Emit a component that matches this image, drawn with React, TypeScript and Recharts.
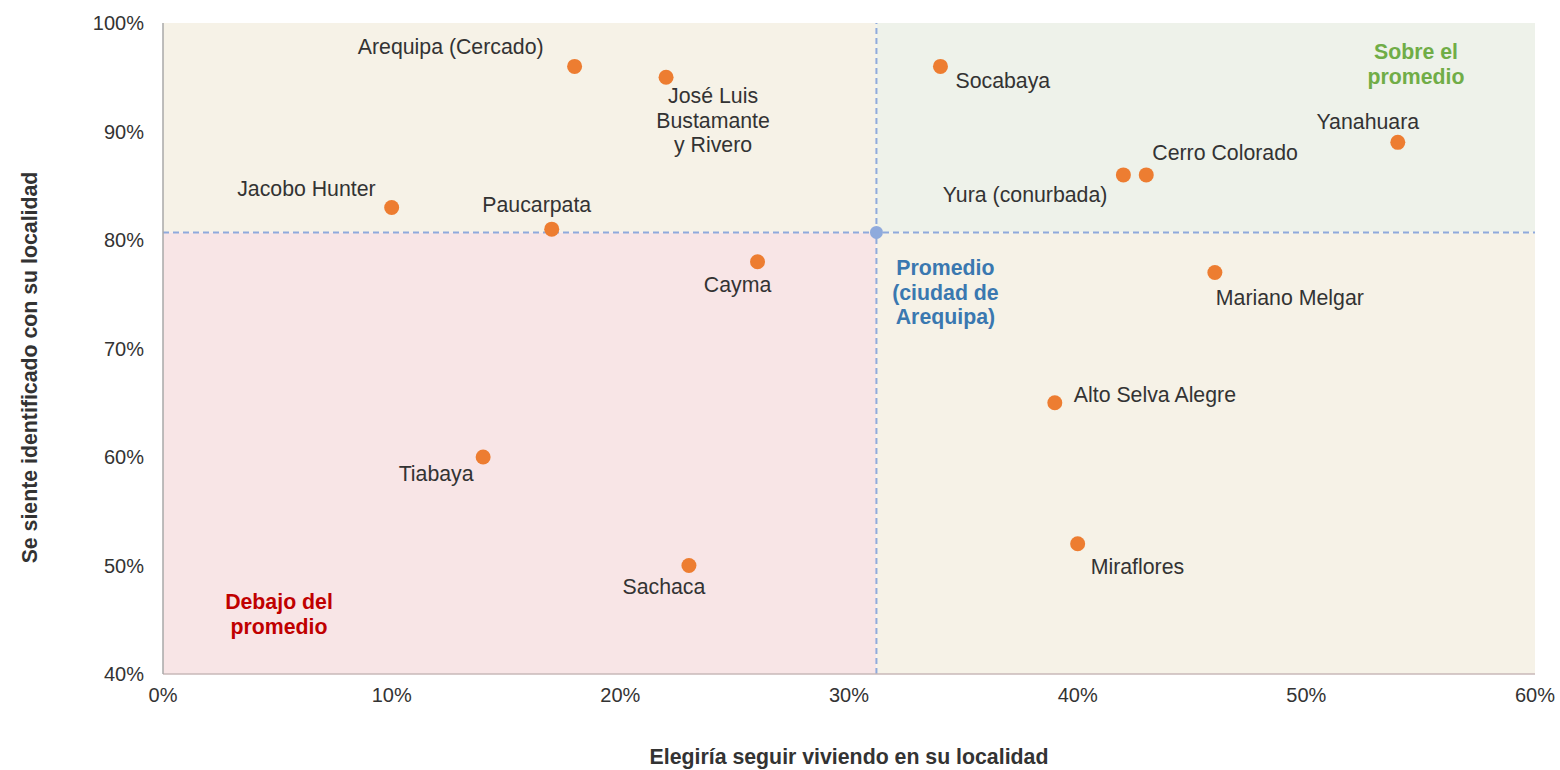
import React from 'react';
import { ScatterChart, Scatter, XAxis, YAxis, ReferenceArea, ReferenceLine } from 'recharts';

// ---- data ----
const districts = [
  'Arequipa (Cercado)',
  'José Luis Bustamante y Rivero',
  'Jacobo Hunter',
  'Paucarpata',
  'Cayma',
  'Tiabaya',
  'Sachaca',
  'Socabaya',
  'Yura (conurbada)',
  'Cerro Colorado',
  'Yanahuara',
  'Mariano Melgar',
  'Alto Selva Alegre',
  'Miraflores',
];
const wouldStay = [18, 22, 10, 17, 26, 14, 23, 34, 42, 43, 54, 46, 39, 40];
const feelsIdentified = [96, 95, 83, 81, 78, 60, 50, 96, 86, 86, 89, 77, 65, 52];
const averageWouldStay = 31.2;
const averageIdentified = 80.7;
const xTicks = [0, 10, 20, 30, 40, 50, 60];
const yTicks = [40, 50, 60, 70, 80, 90, 100];

const xTitle = 'Elegiría seguir viviendo en su localidad';
const yTitle = 'Se siente identificado con su localidad';
const aboveText = ['Sobre el', 'promedio'];
const belowText = ['Debajo del', 'promedio'];
const averageText = ['Promedio', '(ciudad de', 'Arequipa)'];

// ---- layout for point labels (not data) ----
type Place = { lines: string[]; anchor: 'start' | 'middle' | 'end'; dx: number; dy: number };
const labelPlacement: Record<string, Place> = {
  'Arequipa (Cercado)': { lines: ['Arequipa (Cercado)'], anchor: 'end', dx: -31, dy: -19 },
  'José Luis Bustamante y Rivero': { lines: ['José Luis', 'Bustamante', 'y Rivero'], anchor: 'middle', dx: 47, dy: 19 },
  'Jacobo Hunter': { lines: ['Jacobo Hunter'], anchor: 'end', dx: -16, dy: -18 },
  Paucarpata: { lines: ['Paucarpata'], anchor: 'middle', dx: -15, dy: -24 },
  Cayma: { lines: ['Cayma'], anchor: 'middle', dx: -20, dy: 23 },
  Tiabaya: { lines: ['Tiabaya'], anchor: 'middle', dx: -47, dy: 17 },
  Sachaca: { lines: ['Sachaca'], anchor: 'middle', dx: -25, dy: 21 },
  Socabaya: { lines: ['Socabaya'], anchor: 'start', dx: 15, dy: 15 },
  'Yura (conurbada)': { lines: ['Yura (conurbada)'], anchor: 'end', dx: -16, dy: 20 },
  'Cerro Colorado': { lines: ['Cerro Colorado'], anchor: 'start', dx: 6, dy: -22 },
  Yanahuara: { lines: ['Yanahuara'], anchor: 'middle', dx: -30, dy: -20 },
  'Mariano Melgar': { lines: ['Mariano Melgar'], anchor: 'start', dx: 1, dy: 25 },
  'Alto Selva Alegre': { lines: ['Alto Selva Alegre'], anchor: 'start', dx: 19, dy: -8 },
  Miraflores: { lines: ['Miraflores'], anchor: 'start', dx: 13, dy: 23 },
};

const FONT = '"Liberation Sans", Arial, sans-serif';
const TEXT_COLOR = '#333333';
const LABEL_SIZE = 21.3;
const LINE_H = 24.5;

const points = districts.map((name, i) => ({ name, x: wouldStay[i], y: feelsIdentified[i] }));
const averagePoint = [{ name: 'Promedio', x: averageWouldStay, y: averageIdentified }];

const DistrictDot = (props: any) => {
  const { cx, cy, payload } = props;
  const place = labelPlacement[payload.name];
  return (
    <g>
      <circle cx={cx} cy={cy} r={7.5} fill="#ED7D31" />
      {place && (
        <text
          x={cx + place.dx}
          y={cy + place.dy}
          textAnchor={place.anchor}
          fontFamily={FONT}
          fontSize={LABEL_SIZE}
          fill={TEXT_COLOR}
        >
          {place.lines.map((ln, k) => (
            <tspan key={k} x={cx + place.dx} y={cy + place.dy + k * LINE_H} dominantBaseline="central">
              {ln}
            </tspan>
          ))}
        </text>
      )}
    </g>
  );
};

const AverageDot = (props: any) => {
  const { cx, cy } = props;
  return <circle cx={cx} cy={cy} r={6.5} fill="#8FAADC" />;
};

const multiLine = (lines: string[], x: number, y: number, color: string) => (
  <text x={x} y={y} textAnchor="middle" fontFamily={FONT} fontSize={LABEL_SIZE} fontWeight="bold" fill={color}>
    {lines.map((ln, k) => (
      <tspan key={k} x={x} y={y + k * LINE_H} dominantBaseline="central">
        {ln}
      </tspan>
    ))}
  </text>
);

export default function App() {
  return (
    <div style={{ position: 'absolute', left: 0, top: 0, width: 1560, height: 770, background: '#ffffff' }}>
      <ScatterChart width={1560} height={770} margin={{ top: 23, right: 25, bottom: 0, left: 0 }}>
        <XAxis
          type="number"
          dataKey="x"
          domain={[0, 60]}
          ticks={xTicks}
          tickFormatter={(v: number) => `${v}%`}
          height={96}
          tickLine={false}
          tickSize={0}
          tickMargin={14}
          axisLine={{ stroke: '#C9B9B9', strokeWidth: 1.5 }}
          tick={{ fill: TEXT_COLOR, fontSize: 20, fontFamily: FONT }}
          label={{
            content: (p: any) => {
              const vb = p.viewBox;
              return (
                <text
                  x={vb.x + vb.width / 2}
                  y={vb.y + 83}
                  textAnchor="middle"
                  dominantBaseline="central"
                  fontFamily={FONT}
                  fontSize={LABEL_SIZE}
                  fontWeight="bold"
                  fill={TEXT_COLOR}
                >
                  {xTitle}
                </text>
              );
            },
          }}
        />
        <YAxis
          type="number"
          dataKey="y"
          domain={[40, 100]}
          ticks={yTicks}
          tickFormatter={(v: number) => `${v}%`}
          width={163}
          tickLine={false}
          tickSize={0}
          tickMargin={19}
          axisLine={{ stroke: '#A8A8A8', strokeWidth: 1.5 }}
          tick={{ fill: TEXT_COLOR, fontSize: 20, fontFamily: FONT }}
          label={{
            content: (p: any) => {
              const vb = p.viewBox;
              const x = vb.x + 30;
              const y = vb.y + vb.height / 2 + 19;
              return (
                <text
                  x={x}
                  y={y}
                  transform={`rotate(-90 ${x} ${y})`}
                  textAnchor="middle"
                  dominantBaseline="central"
                  fontFamily={FONT}
                  fontSize={LABEL_SIZE}
                  fontWeight="bold"
                  fill={TEXT_COLOR}
                >
                  {yTitle}
                </text>
              );
            },
          }}
        />
        <ReferenceArea
          x1={0}
          x2={averageWouldStay}
          y1={averageIdentified}
          y2={100}
          fill="#F6F2E7"
          fillOpacity={1}
          stroke="none"
        />
        <ReferenceArea
          x1={averageWouldStay}
          x2={60}
          y1={averageIdentified}
          y2={100}
          fill="#EEF2EA"
          fillOpacity={1}
          stroke="none"
          label={{
            content: (p: any) => {
              const vb = p.viewBox;
              return multiLine(aboveText, vb.x + vb.width - 119, vb.y + 29, '#70AD47');
            },
          }}
        />
        <ReferenceArea
          x1={0}
          x2={averageWouldStay}
          y1={40}
          y2={averageIdentified}
          fill="#F8E5E6"
          fillOpacity={1}
          stroke="none"
          label={{
            content: (p: any) => {
              const vb = p.viewBox;
              return multiLine(belowText, vb.x + 116, vb.y + vb.height - 72, '#C00000');
            },
          }}
        />
        <ReferenceArea
          x1={averageWouldStay}
          x2={60}
          y1={40}
          y2={averageIdentified}
          fill="#F6F2E7"
          fillOpacity={1}
          stroke="none"
          label={{
            content: (p: any) => {
              const vb = p.viewBox;
              return multiLine(averageText, vb.x + 69, vb.y + 36, '#3A78B0');
            },
          }}
        />
        <ReferenceLine x={averageWouldStay} stroke="#8FAADC" strokeWidth={2} strokeDasharray="6 4" />
        <ReferenceLine y={averageIdentified} stroke="#8FAADC" strokeWidth={2} strokeDasharray="6 4" />
        <Scatter data={averagePoint} shape={AverageDot} isAnimationActive={false} />
        <Scatter data={points} shape={DistrictDot} isAnimationActive={false} />
      </ScatterChart>
    </div>
  );
}
